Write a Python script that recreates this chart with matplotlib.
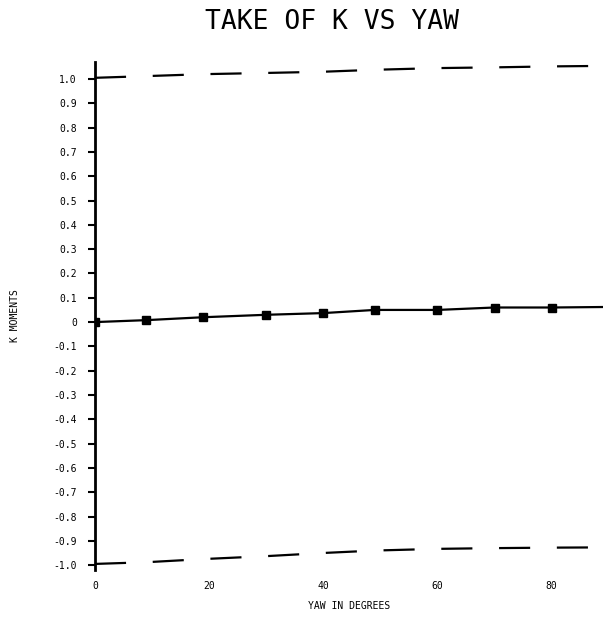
import matplotlib
matplotlib.use('Agg')
import matplotlib.pyplot as plt

# Yaw angles (degrees) and measured K values
yaw = [0, 9, 19, 30, 40, 49, 60, 70, 80, 89]
k_mid = [0.0, 0.008, 0.02, 0.03, 0.037, 0.05, 0.05, 0.06, 0.06, 0.062]
k_upper = [1.005, 1.012, 1.02, 1.025, 1.03, 1.038, 1.045, 1.048, 1.052, 1.054]
k_lower = [-0.995, -0.988, -0.975, -0.963, -0.95, -0.94, -0.933, -0.93, -0.928, -0.927]

x_ticks = [0, 20, 40, 60, 80]
y_ticks = [round(-1 + 0.1 * i, 1) for i in range(21)]
y_labels = ['0' if v == 0 else f'{v:.1f}' for v in y_ticks]

plt.rcParams['font.family'] = ['DejaVu Sans Mono', 'DejaVu Sans']

fig = plt.figure(figsize=(6.03, 6.22), dpi=100)
ax = fig.add_axes([0.1575, 0.0836, 0.8425, 0.8167])

# upper and lower lines (broken, like in the scan)
ax.plot(yaw, k_upper, color='black', lw=1.6, dashes=(14, 12))
ax.plot(yaw, k_lower, color='black', lw=1.6, dashes=(14, 12))

# middle series with markers
ax.plot(yaw, k_mid, color='black', lw=1.6, marker='s', markersize=6,
        markevery=list(range(9)))

ax.set_xlim(0, 89)
ax.set_ylim(-1.02, 1.07)
ax.set_xticks(x_ticks)
ax.set_xticklabels([str(v) for v in x_ticks], fontsize=7)
ax.set_yticks(y_ticks)
ax.set_yticklabels(y_labels, fontsize=7)
ax.tick_params(axis='x', length=0, pad=8)
ax.tick_params(axis='y', length=5, width=1.5, pad=8)

for side in ['top', 'right', 'bottom']:
    ax.spines[side].set_visible(False)
ax.spines['left'].set_linewidth(2)

ax.set_xlabel('YAW IN DEGREES', fontsize=7, labelpad=7)
ax.set_ylabel('K MOMENTS', fontsize=7, labelpad=24)
fig.text(0.55, 0.965, 'TAKE OF K VS YAW', fontsize=19, ha='center', va='center')

fig.savefig('out.png', dpi=100)
